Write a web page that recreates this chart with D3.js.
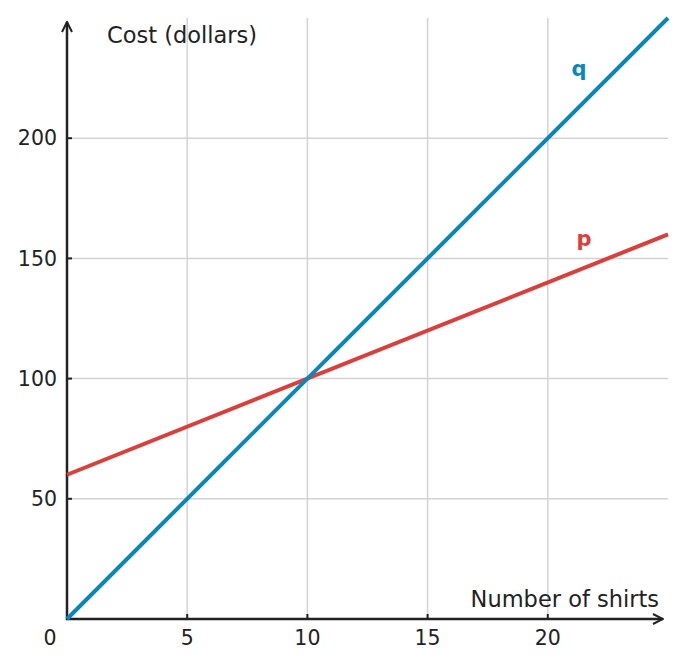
<!DOCTYPE html>
<html>
<head>
<meta charset="utf-8">
<script src="https://cdn.jsdelivr.net/npm/d3@7"></script>
<style>
  body { margin: 0; background: #fff; }
  text { font-family: "DejaVu Sans", sans-serif; fill: #222; }
</style>
</head>
<body>
<div id="chart"></div>
<script>
const xTicks = [5, 10, 15, 20];
const yTicks = [50, 100, 150, 200];
const xValues = [0, 25];
const pValues = [60, 160];
const qValues = [0, 250];

const width = 687;
const height = 668;

const x = d3.scaleLinear().domain([0, 25]).range([67, 668]);
const y = d3.scaleLinear().domain([0, 250]).range([619, 18]);

const svg = d3.select("#chart").append("svg")
    .attr("width", width)
    .attr("height", height);

// grid
svg.selectAll(".vgrid")
    .data(xTicks)
    .enter().append("line")
    .attr("x1", d => x(d)).attr("x2", d => x(d))
    .attr("y1", y(250)).attr("y2", y(0))
    .attr("stroke", "#d3d3d3").attr("stroke-width", 1.5);

svg.selectAll(".hgrid")
    .data(yTicks)
    .enter().append("line")
    .attr("x1", x(0)).attr("x2", x(25))
    .attr("y1", d => y(d)).attr("y2", d => y(d))
    .attr("stroke", "#d3d3d3").attr("stroke-width", 1.5);

// axes
const defs = svg.append("defs");
defs.append("marker")
    .attr("id", "arrow")
    .attr("viewBox", "0 0 10 10")
    .attr("refX", 9).attr("refY", 5)
    .attr("markerWidth", 5).attr("markerHeight", 5)
    .attr("orient", "auto")
    .append("path")
    .attr("d", "M1,1 L9,5 L1,9")
    .attr("fill", "none")
    .attr("stroke", "#222")
    .attr("stroke-width", 1.6);

svg.append("line")
    .attr("x1", x(0)).attr("x2", x(0))
    .attr("y1", y(0) + 1).attr("y2", 22)
    .attr("stroke", "#222").attr("stroke-width", 2.5)
    .attr("marker-end", "url(#arrow)");

svg.append("line")
    .attr("x1", x(0) - 1).attr("x2", 663)
    .attr("y1", y(0)).attr("y2", y(0))
    .attr("stroke", "#222").attr("stroke-width", 2.5)
    .attr("marker-end", "url(#arrow)");

// ticks
svg.selectAll(".xtick")
    .data(xTicks)
    .enter().append("line")
    .attr("x1", d => x(d)).attr("x2", d => x(d))
    .attr("y1", y(0)).attr("y2", y(0) - 5)
    .attr("stroke", "#222").attr("stroke-width", 2);

svg.selectAll(".ytick")
    .data(yTicks)
    .enter().append("line")
    .attr("x1", x(0)).attr("x2", x(0) + 5)
    .attr("y1", d => y(d)).attr("y2", d => y(d))
    .attr("stroke", "#222").attr("stroke-width", 2);

// tick labels
svg.selectAll(".xlabel")
    .data([0].concat(xTicks))
    .enter().append("text")
    .attr("x", d => d === 0 ? 50 : x(d))
    .attr("y", 645)
    .attr("text-anchor", "middle")
    .attr("font-size", 20.5)
    .text(d => d);

svg.selectAll(".ylabel")
    .data(yTicks)
    .enter().append("text")
    .attr("x", 57)
    .attr("y", d => y(d))
    .attr("dy", "0.35em")
    .attr("text-anchor", "end")
    .attr("font-size", 20.5)
    .text(d => d);

// axis titles
svg.append("text")
    .attr("x", 107).attr("y", 43)
    .attr("font-size", 22.5)
    .text("Cost (dollars)");

svg.append("text")
    .attr("x", 659).attr("y", 607)
    .attr("text-anchor", "end")
    .attr("font-size", 22.5)
    .text("Number of shirts");

// lines
const line = d3.line()
    .x(d => x(d[0]))
    .y(d => y(d[1]));

svg.append("path")
    .datum(xValues.map((v, i) => [v, pValues[i]]))
    .attr("d", line)
    .attr("fill", "none")
    .attr("stroke", "#d9403b")
    .attr("stroke-width", 4);

svg.append("path")
    .datum(xValues.map((v, i) => [v, qValues[i]]))
    .attr("d", line)
    .attr("fill", "none")
    .attr("stroke", "#0a86b8")
    .attr("stroke-width", 4);

svg.append("text")
    .attr("x", 579).attr("y", 76)
    .attr("text-anchor", "middle")
    .attr("font-size", 21).attr("font-weight", "bold")
    .style("fill", "#0a86b8")
    .text("q");

svg.append("text")
    .attr("x", 584).attr("y", 246)
    .attr("text-anchor", "middle")
    .attr("font-size", 21).attr("font-weight", "bold")
    .style("fill", "#d9403b")
    .text("p");
</script>
</body>
</html>
